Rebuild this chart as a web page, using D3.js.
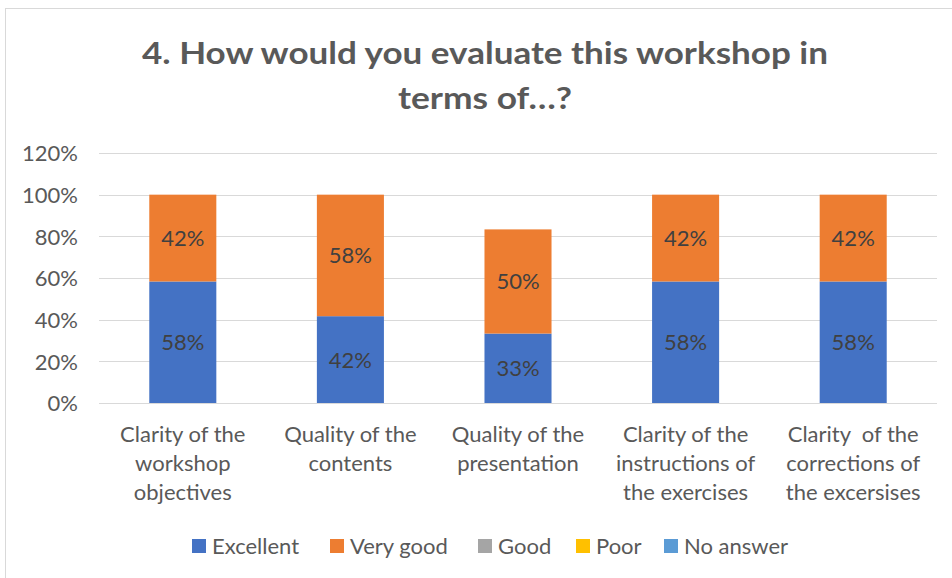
<!DOCTYPE html>
<html><head><meta charset="utf-8">
<script src="https://cdn.jsdelivr.net/npm/d3@7/dist/d3.min.js"></script>
<style>body{margin:0;background:#fff}svg{display:block}text{white-space:pre}</style>
</head><body>
<svg id="c" width="952" height="578"></svg>
<script>
const categories = [
  ["Clarity of the","workshop","objectives"],
  ["Quality of the","contents"],
  ["Quality of the","presentation"],
  ["Clarity of the","instructions of","the exercises"],
  ["Clarity  of the","corrections of","the excersises"]
];
const seriesNames = ["Excellent","Very good","Good","Poor","No answer"];
const seriesColors = ["#4472C4","#ED7D31","#A5A5A5","#FFC000","#5B9BD5"];
const excellent = [58.33, 41.67, 33.33, 58.33, 58.33];
const veryGood  = [41.67, 58.33, 50.00, 41.67, 41.67];
const good      = [0, 0, 0, 0, 0];
const poor      = [0, 0, 0, 0, 0];
const noAnswer  = [0, 0, 0, 0, 0];
const yTicks = [0,20,40,60,80,100,120];
const title = ["4. How would you evaluate this workshop in","terms of…?"];

const svg = d3.select("#c");
const font = "Lato, 'Open Sans', sans-serif";
svg.append("rect").attr("x",5.5).attr("y",8.5).attr("width",960).attr("height",600)
  .attr("fill","#fff").attr("stroke","#d9d9d9");

const t = svg.append("text").attr("text-anchor","middle").attr("fill","#595959")
  .attr("font-family",font).attr("font-weight","bold").attr("font-size",31);
t.append("tspan").attr("x",485).attr("y",64).text(title[0]).attr("textLength",686).attr("lengthAdjust","spacingAndGlyphs");
t.append("tspan").attr("x",485).attr("y",109).text(title[1]).attr("textLength",174).attr("lengthAdjust","spacingAndGlyphs");

const x = d3.scaleBand().domain(d3.range(categories.length)).range([99,937]).paddingInner(0.6).paddingOuter(0.3);
const y = d3.scaleLinear().domain([0,120]).range([403,153]);

const g = svg.append("g");
g.selectAll("line.grid").data(yTicks).join("line")
  .attr("x1",99).attr("x2",937).attr("y1",d=>Math.round(y(d))+0.5).attr("y2",d=>Math.round(y(d))+0.5)
  .attr("stroke","#d9d9d9").attr("stroke-width",1);

const yAxis = d3.axisLeft(y).tickValues(yTicks).tickFormat(d=>d+"%").tickSize(0).tickPadding(0);
const ya = svg.append("g").attr("transform","translate(78,0)").call(yAxis);
ya.select(".domain").remove();
ya.selectAll("text").attr("font-family",font).attr("font-size",22).attr("fill","#595959").attr("dy","0.36em");

const table = categories.map((c,i)=>({i, "Excellent":excellent[i], "Very good":veryGood[i], "Good":good[i], "Poor":poor[i], "No answer":noAnswer[i]}));
const stack = d3.stack().keys(seriesNames)(table);

stack.forEach((layer,si)=>{
  const lg = svg.append("g");
  lg.selectAll("rect").data(layer).join("rect")
    .attr("x",d=>x(d.data.i)).attr("width",x.bandwidth())
    .attr("y",d=>y(d[1])).attr("height",d=>y(d[0])-y(d[1]))
    .attr("fill",seriesColors[si]);
  lg.selectAll("text").data(layer.filter(d=>d[1]-d[0]>0)).join("text")
    .attr("x",d=>x(d.data.i)+x.bandwidth()/2).attr("y",d=>(y(d[0])+y(d[1]))/2)
    .attr("dy","0.36em").attr("text-anchor","middle")
    .attr("font-family",font).attr("font-size",22).attr("fill","#404040")
    .text(d=>Math.round(d[1]-d[0])+"%");
});

const xl = svg.append("g");
categories.forEach((lines,i)=>{
  const tx = xl.append("text").attr("text-anchor","middle").attr("font-family",font)
    .attr("font-size",22).attr("fill","#595959");
  lines.forEach((ln,k)=>tx.append("tspan").attr("x",x(i)+x.bandwidth()/2).attr("y",442+k*29).text(ln));
});

const legendX = [192,330,478,576,664];
const lgd = svg.append("g");
seriesNames.forEach((n,i)=>{
  lgd.append("rect").attr("x",legendX[i]).attr("y",539).attr("width",14).attr("height",14).attr("fill",seriesColors[i]);
  lgd.append("text").attr("x",legendX[i]+20).attr("y",554).attr("font-family",font).attr("font-size",22)
    .attr("fill","#595959").text(n);
});
</script>
</body></html>
